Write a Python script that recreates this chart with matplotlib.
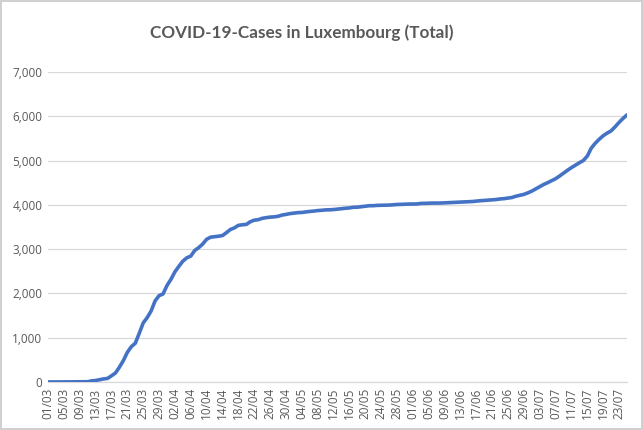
import matplotlib
matplotlib.use("Agg")
import matplotlib.pyplot as plt
import pandas as pd
from matplotlib.ticker import FuncFormatter

# cumulative cases, one value per day from 01/03 to 25/07
march = [1, 1, 1, 1, 2, 3, 4, 5, 5, 7, 7, 26, 34, 51, 70, 81, 140, 203, 335, 484,
         670, 798, 875, 1099, 1333, 1453, 1605, 1831, 1950, 1988, 2178]
april = [2319, 2487, 2612, 2729, 2804, 2843, 2970, 3034, 3115, 3223, 3270, 3281, 3292,
         3307, 3373, 3444, 3480, 3537, 3550, 3558, 3618, 3654, 3665, 3695, 3711, 3723,
         3729, 3741, 3769, 3784]
may = [3802, 3812, 3824, 3828, 3840, 3851, 3859, 3871, 3877, 3886, 3888, 3894, 3904,
       3915, 3923, 3930, 3945, 3947, 3958, 3971, 3980, 3981, 3988, 3990, 3993, 3995,
       4000, 4008, 4012, 4016, 4018]
june = [4019, 4020, 4032, 4035, 4039, 4040, 4040, 4041, 4045, 4049, 4052, 4055, 4063,
        4065, 4070, 4075, 4085, 4093, 4099, 4104, 4113, 4120, 4133, 4140, 4153, 4166,
        4195, 4216, 4236, 4270]
july = [4310, 4360, 4410, 4460, 4500, 4545, 4590, 4650, 4715, 4780, 4840, 4895, 4950,
        5000, 5100, 5280, 5390, 5480, 5560, 5620, 5670, 5760, 5860, 5950, 6030]

cases = march + april + may + june + july
dates = pd.date_range("2020-03-01", periods=len(cases), freq="D")
labels = [d.strftime("%d/%m") for d in dates]

txt = "#595959"
grid = "#D9D9D9"

fig = plt.figure(figsize=(6.43, 4.30), dpi=100)
fig.patch.set_facecolor("white")
fig.patch.set_edgecolor("#D0D0D0")
fig.patch.set_linewidth(1.5)
ax = fig.add_axes([0.0747, 0.1116, 0.9003, 0.721])

x = list(range(len(cases)))
ax.plot(x, cases, color="#4472C4", lw=2.6, solid_capstyle="round", zorder=3)

ax.set_xlim(0, len(cases) - 1)
ax.set_ylim(0, 7000)
ax.set_yticks(range(0, 7001, 1000))
ax.yaxis.set_major_formatter(FuncFormatter(lambda v, p: f"{int(v):,}"))
ax.set_xticks(x[::4])
ax.set_xticklabels(labels[::4], rotation=90)

ax.grid(axis="y", color=grid, lw=0.9)
ax.set_axisbelow(True)
for s in ["top", "right", "left"]:
    ax.spines[s].set_visible(False)
ax.spines["bottom"].set_color(grid)
ax.spines["bottom"].set_linewidth(0.9)
ax.tick_params(length=0, colors=txt, labelsize=8.5, pad=4)
for lab in ax.get_xticklabels() + ax.get_yticklabels():
    lab.set_fontfamily("Open Sans")
    lab.set_color(txt)

fig.text(0.47, 0.925, "COVID-19-Cases in Luxembourg (Total)", ha="center", va="center",
         fontsize=12.3, color=txt, family="Lato", fontweight="bold")

plt.savefig("out.png", dpi=100)
plt.close()
